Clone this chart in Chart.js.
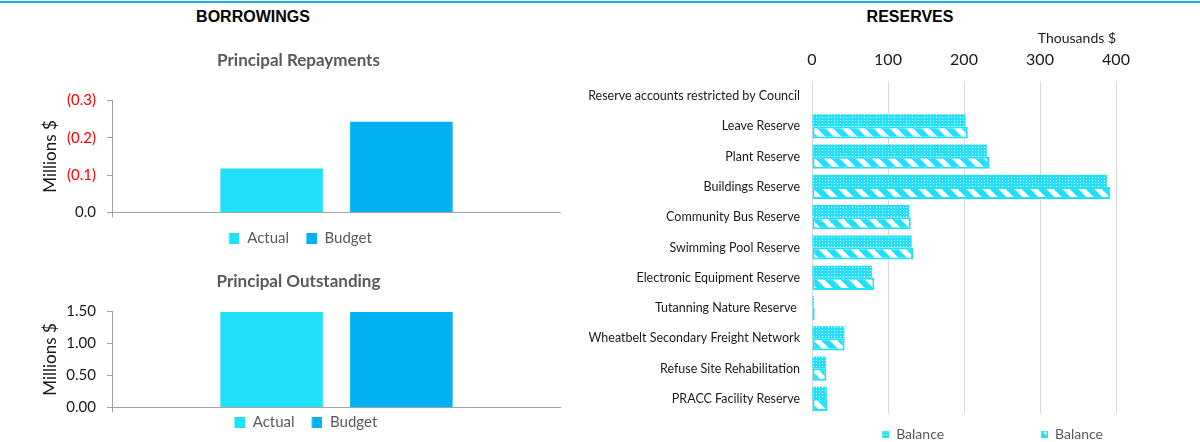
<!DOCTYPE html>
<html>
<head>
<meta charset="utf-8">
<title>Borrowings and Reserves</title>
<script src="https://cdn.jsdelivr.net/npm/chart.js@4.4.1/dist/chart.umd.min.js"></script>
<style>
  body { margin: 0; background: #fff; }
  #page { position: relative; width: 1200px; height: 442px; overflow: hidden; }
  #rule { position: absolute; left: 0; top: 1px; width: 1200px; height: 2px; background: #17B4EE; }
  .heading { position: absolute; top: 8px; font: bold 16px "Liberation Sans", Arial, sans-serif; color: #000; transform: translateX(-50%); white-space: nowrap; }
  canvas { position: absolute; }
</style>
</head>
<body>
<div id="page">
  <div id="rule"></div>
  <div class="heading" style="left:253px">BORROWINGS</div>
  <div class="heading" style="left:910px">RESERVES</div>
  <canvas id="repayments" width="525" height="216" style="left:36px;top:40px"></canvas>
  <canvas id="outstanding" width="525" height="178" style="left:36px;top:262px"></canvas>
  <canvas id="reserves" width="625" height="416" style="left:575px;top:26px"></canvas>
</div>
<script>
// borrowings ($ millions, repayments are outflows so negative)
const borrowLabels = ["Actual", "Budget"];
const repaymentValues = [-0.118, -0.243];
const outstandingValues = [1.49, 1.49];
const repaymentTicks = [-0.3, -0.2, -0.1, 0];
const outstandingTicks = [0, 0.5, 1.0, 1.5];

// reserves ($ thousands)
const reserveNames = [
  "Reserve accounts restricted by Council",
  "Leave Reserve",
  "Plant Reserve",
  "Buildings Reserve",
  "Community Bus Reserve",
  "Swimming Pool Reserve",
  "Electronic Equipment Reserve",
  "Tutanning Nature Reserve ",
  "Wheatbelt Secondary Freight Network",
  "Refuse Site Rehabilitation",
  "PRACC Facility Reserve"
];
const balanceDotted = [null, 202, 230, 388, 128, 131, 79, 2.5, 42.5, 18.5, 19.5];
const balanceStriped = [null, 205, 233, 392, 130, 133, 82, 3.5, 43, 19, 20];
const reserveTicks = [0, 100, 200, 300, 400];

const CYAN = "#21E1FA";
const BLUE = "#00B0F0";
const AXIS = "#A3A3A3";
const borrowColours = [CYAN, BLUE];

Chart.defaults.font.family = "Lato, sans-serif";
Chart.defaults.color = "#1a1a1a";

function dotTile() {
  const c = document.createElement("canvas");
  c.width = 3; c.height = 3;
  const g = c.getContext("2d");
  g.fillStyle = CYAN; g.fillRect(0, 0, 3, 3);
  g.fillStyle = "#fff"; g.fillRect(1, 1, 1, 1);
  return c;
}

function stripeTile() {
  const c = document.createElement("canvas");
  c.width = 16; c.height = 16;
  const g = c.getContext("2d");
  g.fillStyle = "#fff"; g.fillRect(0, 0, 16, 16);
  g.strokeStyle = CYAN; g.lineWidth = 6;
  [-16, 0, 16].forEach(o => {
    g.beginPath(); g.moveTo(o - 4, -4); g.lineTo(o + 20, 20); g.stroke();
  });
  return c;
}

// legend marker: square sitting at the right end of a wider transparent strip,
// the blank part gives the gap between legend entries
function legendIcon(fill, width, size, outline) {
  const c = document.createElement("canvas");
  c.width = width; c.height = size;
  const g = c.getContext("2d");
  g.fillStyle = fill instanceof HTMLCanvasElement ? g.createPattern(fill, "repeat") : fill;
  g.fillRect(width - size, 0, size, size);
  if (outline) {
    g.strokeStyle = outline; g.lineWidth = 1.5;
    g.strokeRect(width - size + 0.75, 0.75, size - 1.5, size - 1.5);
  }
  return c;
}

function withIcons(icons) {
  return chart => Chart.defaults.plugins.legend.labels.generateLabels(chart)
    .map((item, i) => Object.assign(item, { pointStyle: icons[i] }));
}

function borrowChart(id, title, values, yTicks, tickLabel, titlePad, legendPad) {
  const iconWidth = 11 + 17 - legendPad;
  const icons = borrowColours.map(c => legendIcon(c, iconWidth, 11));
  return new Chart(document.getElementById(id), {
    type: "bar",
    data: {
      labels: [""],
      datasets: borrowLabels.map((label, i) => ({
        label: label,
        data: [values[i]],
        backgroundColor: borrowColours[i],
        categoryPercentage: 0.578,
        barPercentage: 0.79
      }))
    },
    options: {
      responsive: false,
      animation: false,
      plugins: {
        title: {
          display: true, text: title, color: "#595959",
          font: { size: 17, weight: "bold" }, padding: titlePad
        },
        legend: {
          position: "bottom",
          labels: {
            usePointStyle: true, pointStyleWidth: iconWidth,
            color: "#595959", font: { size: 15 }, padding: legendPad,
            generateLabels: withIcons(icons)
          }
        },
        tooltip: { enabled: false }
      },
      scales: {
        x: {
          ticks: { display: false },
          grid: { drawOnChartArea: false, tickLength: 5, color: AXIS },
          border: { color: AXIS }
        },
        y: {
          reverse: values[0] < 0,
          min: Math.min(...yTicks),
          max: Math.max(...yTicks),
          afterBuildTicks: s => { s.ticks = yTicks.map(v => ({ value: v })); },
          afterFit: s => { s.width = 76; },
          ticks: {
            font: { size: 15 }, padding: 11,
            callback: tickLabel,
            color: ctx => (ctx.tick && ctx.tick.value < 0 ? "#FF0000" : "#1a1a1a")
          },
          grid: { drawOnChartArea: false, tickLength: 5, color: AXIS },
          border: { color: AXIS },
          title: { display: true, text: "Millions $", font: { size: 17 }, color: "#1a1a1a" }
        }
      }
    }
  });
}

borrowChart("repayments", "Principal Repayments", repaymentValues, repaymentTicks,
  v => (v === 0 ? "0.0" : "(" + Math.abs(v).toFixed(1) + ")"),
  { top: 10, bottom: 30 }, 13.5);

borrowChart("outstanding", "Principal Outstanding", outstandingValues, outstandingTicks,
  v => v.toFixed(2),
  { top: 9, bottom: 20 }, 2.5);

const rctx = document.getElementById("reserves").getContext("2d");
const reserveIcons = [
  legendIcon(dotTile(), 91, 7),
  legendIcon(stripeTile(), 91, 7, CYAN)
];

new Chart(rctx, {
  type: "bar",
  data: {
    labels: reserveNames,
    datasets: [
      {
        label: "Balance", data: balanceDotted,
        backgroundColor: rctx.createPattern(dotTile(), "repeat"), borderWidth: 0
      },
      {
        label: "Balance", data: balanceStriped,
        backgroundColor: rctx.createPattern(stripeTile(), "repeat"),
        borderColor: CYAN, borderWidth: 2, borderSkipped: false
      }
    ]
  },
  options: {
    indexAxis: "y",
    responsive: false,
    animation: false,
    datasets: { bar: { categoryPercentage: 0.8, barPercentage: 1 } },
    layout: { padding: { right: 84 } },
    plugins: {
      legend: {
        position: "bottom", align: "end", maxHeight: 28,
        labels: {
          usePointStyle: true, pointStyleWidth: 91, padding: 13,
          font: { size: 14 }, color: "#595959",
          generateLabels: withIcons(reserveIcons)
        }
      },
      tooltip: { enabled: false }
    },
    scales: {
      x: {
        position: "top", min: 0, max: 400,
        afterBuildTicks: s => { s.ticks = reserveTicks.map(v => ({ value: v })); },
        ticks: { font: { size: 16 }, padding: 12 },
        grid: { color: "#D9D9D9", drawTicks: false },
        border: { display: false },
        title: {
          display: true, text: "Thousands $", align: "end",
          font: { size: 14 }, padding: { top: 4, bottom: -9 }
        }
      },
      y: {
        afterFit: s => { s.width = 237; },
        grid: { display: false, drawTicks: false },
        border: { display: false },
        ticks: { autoSkip: false, font: { size: 12.5 }, padding: 12 }
      }
    }
  }
});
</script>
</body>
</html>
